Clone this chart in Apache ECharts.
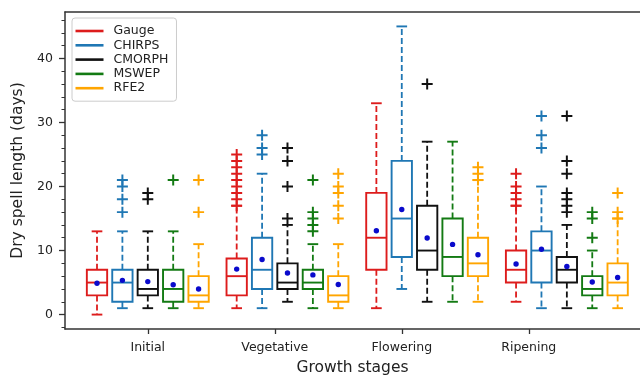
<!DOCTYPE html>
<html>
<head>
<meta charset="utf-8">
<script src="https://cdn.jsdelivr.net/npm/echarts@6/dist/echarts.min.js"></script>
<style>
html,body{margin:0;padding:0;background:#fff;}
#chart{width:640px;height:376px;}
</style>
</head>
<body>
<div id="chart"></div>
<script>
// ---------------- data ----------------
const stages = ['Initial', 'Vegetative', 'Flowering', 'Ripening'];
const sources = ['Gauge', 'CHIRPS', 'CMORPH', 'MSWEP', 'RFE2'];
const stageTickValues = [2, 7, 12, 17];
const yMajorTicks = [0, 10, 20, 30, 40];
const yMinorTicks = [-2, 2, 4, 6, 8, 12, 14, 16, 18, 22, 24, 26, 28, 32, 34, 36, 38, 42, 44, 46];

// [lower whisker, Q1, median, Q3, upper whisker] per stage
const gaugeStats  = [[0, 3, 5, 7, 13], [1, 3, 6, 8.75, 17], [1, 7, 12, 19, 33], [2, 5, 7, 10, 17]];
const chirpsStats = [[1, 2, 5, 7, 13], [1, 4, 7, 12, 22], [4, 9, 15, 24, 45], [1, 5, 10, 13, 20]];
const cmorphStats = [[1, 3, 4, 7, 13], [2, 4, 5, 8, 14], [2, 7, 10, 17, 27], [1, 5, 7, 9, 14]];
const mswepStats  = [[1, 2, 4, 7, 13], [1, 4, 5, 7, 11], [2, 6, 9, 15, 27], [1, 3, 4, 6, 10]];
const rfe2Stats   = [[1, 2, 3, 6, 11], [1, 2, 3, 6, 11], [2, 6, 8, 12, 21], [1, 3, 5, 8, 15]];

const gaugeMean  = [4.9, 7.1, 13.1, 7.9];
const chirpsMean = [5.35, 8.6, 16.4, 10.2];
const cmorphMean = [5.15, 6.5, 11.95, 7.5];
const mswepMean  = [4.67, 6.2, 10.96, 5.1];
const rfe2Mean   = [4.0, 4.7, 9.35, 5.8];

const gaugeOutliers  = [[], [17, 18, 19, 20, 21, 22, 23, 24, 25], [], [17, 18, 19, 20, 22]];
const chirpsOutliers = [[16, 18, 20, 21], [25, 26, 28], [], [26, 28, 31]];
const cmorphOutliers = [[18, 19], [15, 20, 24, 26], [36], [16, 17, 18, 19, 22, 24, 31]];
const mswepOutliers  = [[21], [13, 14, 15, 16, 21], [], [12, 15, 16]];
const rfe2Outliers   = [[16, 21], [15, 17, 19, 20, 22], [21, 22, 23], [15, 16, 19]];

// ---------------- styling / layout ----------------
const allStats = [gaugeStats, chirpsStats, cmorphStats, mswepStats, rfe2Stats];
const allMeans = [gaugeMean, chirpsMean, cmorphMean, mswepMean, rfe2Mean];
const allOutliers = [gaugeOutliers, chirpsOutliers, cmorphOutliers, mswepOutliers, rfe2Outliers];
const colors = ['#dd1c1c', '#1f77b4', '#111111', '#137a13', '#ffa500'];
const groupStart = [0, 5.5, 11, 16.5];
const BOX_W = 0.8;
const CAP_W = 0.42;
const FONT = 'DejaVu Sans';
const PLUS = 'path://M0,4.1H10V5.9H0Z M4.1,0H5.9V10H4.1Z';
const X_MIN = -1.26, X_MAX = 21.38;

const series = [];
sources.forEach((name, s) => {
  const color = colors[s];
  const data = stages.map((st, g) => {
    const b = allStats[s][g];
    return [groupStart[g] + s, b[0], b[1], b[2], b[3], b[4], allMeans[s][g]];
  });
  series.push({
    name: name,
    type: 'custom',
    itemStyle: { color: color },
    encode: { x: 0, y: [1, 2, 3, 4, 5, 6] },
    data: data,
    z: 2,
    renderItem: function (params, api) {
      const x = api.value(0);
      const halfW = api.size([BOX_W, 0])[0] / 2;
      const halfC = api.size([CAP_W, 0])[0] / 2;
      const pLow = api.coord([x, api.value(1)]);
      const pQ1 = api.coord([x, api.value(2)]);
      const pMed = api.coord([x, api.value(3)]);
      const pQ3 = api.coord([x, api.value(4)]);
      const pHigh = api.coord([x, api.value(5)]);
      const pMean = api.coord([x, api.value(6)]);
      const cx = pMed[0];
      const solid = { stroke: color, lineWidth: 1.9, fill: null };
      const dashed = { stroke: color, lineWidth: 1.8, lineDash: [6, 3], fill: null };
      return {
        type: 'group',
        children: [
          { type: 'line', shape: { x1: cx, y1: pQ3[1], x2: cx, y2: pHigh[1] }, style: dashed },
          { type: 'line', shape: { x1: cx, y1: pQ1[1], x2: cx, y2: pLow[1] }, style: dashed },
          { type: 'line', shape: { x1: cx - halfC, y1: pHigh[1], x2: cx + halfC, y2: pHigh[1] }, style: solid },
          { type: 'line', shape: { x1: cx - halfC, y1: pLow[1], x2: cx + halfC, y2: pLow[1] }, style: solid },
          { type: 'rect', shape: { x: cx - halfW, y: pQ3[1], width: 2 * halfW, height: pQ1[1] - pQ3[1] }, style: solid },
          { type: 'line', shape: { x1: cx - halfW, y1: pMed[1], x2: cx + halfW, y2: pMed[1] }, style: solid },
          { type: 'circle', shape: { cx: cx, cy: pMean[1], r: 2.7 }, style: { fill: '#0a0acc', stroke: null }, z2: 10 }
        ]
      };
    }
  });
  const outData = [];
  stages.forEach((st, g) => {
    allOutliers[s][g].forEach(v => outData.push([groupStart[g] + s, v]));
  });
  series.push({
    name: name,
    type: 'scatter',
    data: outData,
    symbol: PLUS,
    symbolSize: 11,
    itemStyle: { color: color, opacity: 1 },
    z: 3,
    silent: true
  });
});

const chart = echarts.init(document.getElementById('chart'), null, { renderer: 'canvas' });
chart.setOption({
  animation: false,
  backgroundColor: '#ffffff',
  textStyle: { fontFamily: FONT },
  grid: { left: 65, right: 0, top: 12, bottom: 47, show: false, containLabel: false, outerBoundsMode: 'none' },
  legend: {
    orient: 'vertical',
    left: 72,
    top: 18,
    padding: [6.5, 8, 6.5, 3.5],
    itemGap: 1.3,
    itemWidth: 28,
    itemHeight: 2.6,
    icon: 'rect',
    backgroundColor: 'rgba(255,255,255,0.85)',
    borderColor: '#cccccc',
    borderWidth: 1,
    borderRadius: 3,
    data: sources.map((n, i) => ({ name: n, itemStyle: { color: colors[i] } })),
    textStyle: { fontFamily: FONT, fontSize: 12.5, color: '#222', padding: [0, 0, 0, 5] },
    selectedMode: false
  },
  xAxis: [
    {
      type: 'value',
      min: X_MIN,
      max: X_MAX,
      name: 'Growth stages',
      nameLocation: 'middle',
      nameGap: 31,
      nameTextStyle: { fontFamily: FONT, fontSize: 15.5, color: '#222' },
      axisLine: { show: true, onZero: false, lineStyle: { color: '#333', width: 1.5 } },
      axisTick: { show: true, customValues: stageTickValues, length: 5, lineStyle: { color: '#333', width: 1.3 } },
      axisLabel: {
        customValues: stageTickValues,
        margin: 12,
        fontFamily: FONT, fontSize: 12.5, color: '#222',
        formatter: v => stages[stageTickValues.indexOf(v)] || ''
      },
      splitLine: { show: false }
    },
    {
      type: 'value',
      position: 'top',
      min: X_MIN,
      max: X_MAX,
      axisLine: { show: true, onZero: false, lineStyle: { color: '#333', width: 1.5 } },
      axisTick: { show: false },
      axisLabel: { show: false },
      splitLine: { show: false }
    }
  ],
  yAxis: [
    {
      type: 'value',
      min: -2.25,
      max: 47.25,
      name: 'Dry spell length (days)',
      nameLocation: 'middle',
      nameGap: 36,
      nameTextStyle: { fontFamily: FONT, fontSize: 15.5, color: '#222' },
      axisLine: { show: true, onZero: false, lineStyle: { color: '#333', width: 1.5 } },
      axisTick: { show: true, customValues: yMajorTicks, length: 6, lineStyle: { color: '#333', width: 1.3 } },
      axisLabel: { customValues: yMajorTicks, margin: 12, fontFamily: FONT, fontSize: 12.5, color: '#222' },
      splitLine: { show: false }
    },
    {
      type: 'value',
      min: -2.25,
      max: 47.25,
      position: 'left',
      axisLine: { show: false, onZero: false },
      axisTick: { show: true, customValues: yMinorTicks, length: 3.5, lineStyle: { color: '#333', width: 1 } },
      axisLabel: { show: false },
      splitLine: { show: false }
    }
  ],
  series: series
});
</script>
</body>
</html>
